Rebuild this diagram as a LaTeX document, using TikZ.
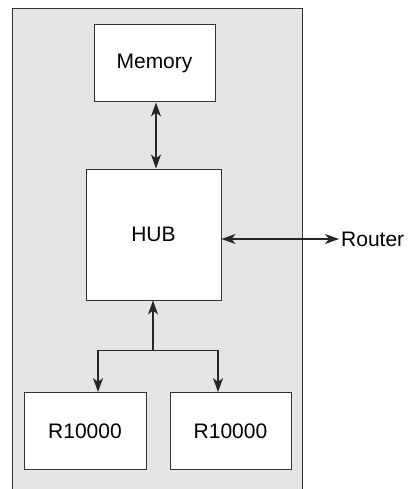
\documentclass[tikz,border=0pt]{standalone}
\usepackage{fontspec}
\setmainfont{Liberation Sans}
\usetikzlibrary{arrows.meta}

\tikzset{
  unit/.style={draw=black!80, fill=white, line width=1pt, inner sep=0pt, font=\fontsize{21}{25}\selectfont},
  link/.style={line width=1.4pt, draw=black!85, -{Stealth[length=14pt,width=10pt,inset=4pt]}},
  duplex/.style={line width=1.4pt, draw=black!85, {Stealth[length=14pt,width=10pt,inset=4pt]}-{Stealth[length=14pt,width=10pt,inset=4pt]}}
}

\begin{document}
\begin{tikzpicture}[x=1pt, y=1pt]
            \useasboundingbox (0, 0) rectangle (412, -489);
            % node board
            \fill[black!10] (12.3, -489) rectangle (302, -8.7);
            \draw[black!80, line width=1pt] (12.3, -489) -- (12.3, -8.7) -- (302, -8.7) -- (302, -489);

            \node[unit, minimum width=121pt, minimum height=77pt] (mem) at (154.5, -63.5) {Memory};
            \node[unit, minimum width=135pt, minimum height=131pt] (hub) at (153.5, -234.5) {HUB};
            \node[unit, minimum width=122pt, minimum height=77pt] (cpuA) at (85, -431) {R10000};
            \node[unit, minimum width=121pt, minimum height=77pt] (cpuB) at (230.5, -431) {R10000};
            \node[font=\fontsize{21}{25}\selectfont, anchor=west, inner sep=2pt] (router) at (339, -239) {Router};

            \draw[duplex] ([xshift=1.5pt]mem.south) -- ([xshift=1.5pt]mem.south |- hub.north);
            \draw[duplex] (hub.east |- router.west) -- (router.west);

            % processor bus
            \coordinate (fork) at (153, -350.7);
            \draw[link] (fork) -- (fork |- hub.south);
            \draw[link] (fork) -| ([xshift=13pt]cpuA.north);
            \draw[link] (fork) -| ([xshift=-12.5pt]cpuB.north);
        \end{tikzpicture}
\end{document}
